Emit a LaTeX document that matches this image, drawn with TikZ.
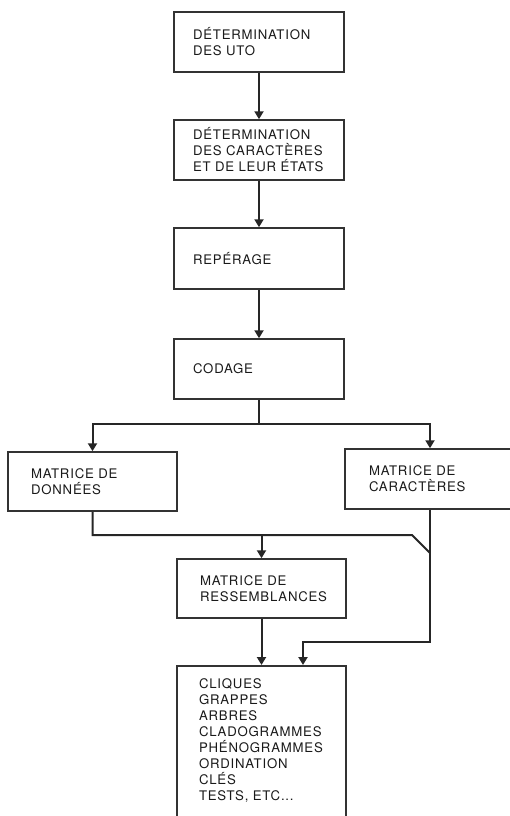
\documentclass[tikz,border=0pt]{standalone}
\usepackage{fontspec}
\setmainfont{TeX Gyre Heros}[LetterSpace=6]
\usetikzlibrary{arrows.meta}

\tikzset{
  etape/.style={draw=black!80, line width=1.5pt, rectangle, align=left,
    inner xsep=19pt, inner ysep=0pt, text width=132pt, minimum height=60pt,
    font=\fontsize{13.2}{16}\selectfont, text=black!90},
  fleche/.style={line width=2pt, draw=black!85,
    -{Triangle[width=9pt,length=8pt]}},
  trait/.style={line width=2pt, draw=black!85}
}

\begin{document}
\begin{tikzpicture}[x=1pt,y=-1pt]
    \useasboundingbox (0,0) rectangle (510,816);
    \node[etape] (uto) at (259,42) {DÉTERMINATION\\DES UTO};
    \node[etape] (caracteres) at (259,150) {DÉTERMINATION\\DES CARACTÈRES\\ET DE LEUR ÉTATS};
    \node[etape, minimum height=61pt] (reperage) at (259,258.5) {REPÉRAGE};
    \node[etape] (codage) at (259,369) {CODAGE};
    \node[etape, inner xsep=23pt, text width=123pt, minimum height=59pt] (donnees) at (92.5,481.5) {MATRICE DE\\DONNÉES};
    \node[etape, inner xsep=24pt, text width=122pt] (matcar) at (430,479) {MATRICE DE\\CARACTÈRES};
    \node[etape, inner xsep=23pt, text width=123pt, minimum height=59pt] (ressemb) at (261.5,588.5) {MATRICE DE\\RESSEMBLANCES};
    \node[etape, anchor=north, inner xsep=22pt, inner ysep=14pt, text width=125pt,
      text height=9pt, text depth=140pt] (resultats) at (261.5,665)
      {CLIQUES\\GRAPPES\\ARBRES\\CLADOGRAMMES\\PHÉNOGRAMMES\\ORDINATION\\CLÉS\\TESTS, ETC...};

    \coordinate (partage) at (259,424);
    \coordinate (coude) at (412,535);
    \coordinate (rejoint) at (430,553);
    \coordinate (virage) at (303,642);

    \draw[fleche] (uto) -- (caracteres);
    \draw[fleche] (caracteres) -- (reperage);
    \draw[fleche] (reperage) -- (codage);
    \draw[fleche] (codage.south) -- (partage) -| (donnees.north);
    \draw[fleche] (partage) -| (matcar.north);
    \draw[trait] (donnees.south) |- (coude) -- (rejoint);
    \draw[fleche] (ressemb.north |- coude) -- (ressemb.north);
    \draw[fleche] (matcar.south) |- (virage) -- (virage |- resultats.north);
    \draw[fleche] (ressemb) -- (resultats);
\end{tikzpicture}
\end{document}
